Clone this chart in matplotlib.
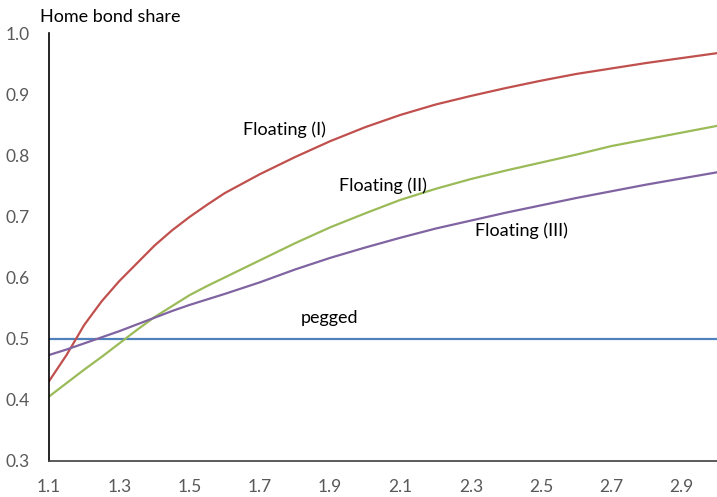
import numpy as np
import matplotlib
matplotlib.use("Agg")
import matplotlib.pyplot as plt

plt.rcParams['font.family'] = ['Lato', 'DejaVu Sans']

x = [1.1, 1.15, 1.2, 1.25, 1.3, 1.35, 1.4, 1.45, 1.5, 1.55, 1.6, 1.7, 1.8, 1.9, 2.0,
     2.1, 2.2, 2.3, 2.4, 2.5, 2.6, 2.7, 2.8, 2.9, 3.0]
floating_1 = [0.43, 0.473, 0.522, 0.561, 0.594, 0.623, 0.652, 0.677, 0.699, 0.719, 0.738,
              0.769, 0.797, 0.823, 0.846,
              0.866, 0.883, 0.897, 0.910, 0.922, 0.933, 0.942, 0.951, 0.959, 0.967]
floating_2 = [0.405, 0.427, 0.449, 0.470, 0.492, 0.514, 0.535, 0.553, 0.571, 0.586, 0.600,
              0.628, 0.656, 0.682, 0.705,
              0.727, 0.745, 0.761, 0.775, 0.788, 0.801, 0.815, 0.826, 0.837, 0.848]
floating_3 = [0.473, 0.482, 0.492, 0.502, 0.512, 0.523, 0.534, 0.545, 0.555, 0.564, 0.573,
              0.592, 0.613, 0.632, 0.649,
              0.665, 0.680, 0.693, 0.706, 0.718, 0.730, 0.741, 0.752, 0.762, 0.772]
pegged = [0.5] * len(x)

xticks = [1.1, 1.3, 1.5, 1.7, 1.9, 2.1, 2.3, 2.5, 2.7, 2.9]
yticks = [0.3, 0.4, 0.5, 0.6, 0.7, 0.8, 0.9, 1.0]

fig = plt.figure(figsize=(7.17, 4.97), dpi=100)
ax = fig.add_axes([0.0683, 0.073, 0.9317, 0.8606])

lw = 1.6
ax.plot(x, pegged, color='#4F81BD', lw=lw)
ax.plot(x, floating_1, color='#C0504D', lw=lw)
ax.plot(x, floating_2, color='#9BBB59', lw=lw)
ax.plot(x, floating_3, color='#8064A2', lw=lw)

fs = 13
ax.text(1.653, 0.841, "Floating (I)", fontsize=fs, va='center', ha='left')
ax.text(1.925, 0.750, "Floating (II)", fontsize=fs, va='center', ha='left')
ax.text(2.313, 0.676, "Floating (III)", fontsize=fs, va='center', ha='left')
ax.text(1.816, 0.534, "pegged", fontsize=fs, va='center', ha='left')

ax.set_xlim(1.1, 3.0)
ax.set_ylim(0.3, 1.0)
ax.set_xticks(xticks)
ax.set_xticklabels([f"{v:.1f}" for v in xticks])
ax.set_yticks(yticks)
ax.set_yticklabels([f"{v:.1f}" for v in yticks])
ax.tick_params(length=0, labelsize=12.5, labelcolor='#595959')
ax.tick_params(axis='x', pad=13)
ax.tick_params(axis='y', pad=14)

for s in ['top', 'right']:
    ax.spines[s].set_visible(False)
ax.spines['left'].set_color('black')
ax.spines['bottom'].set_color('#404040')
ax.spines['left'].set_linewidth(1.2)
ax.spines['bottom'].set_linewidth(1.2)

fig.text(40 / 717, 1 - 17 / 497, "Home bond share", fontsize=fs, va='center', ha='left')

fig.savefig("out.png", dpi=100)
